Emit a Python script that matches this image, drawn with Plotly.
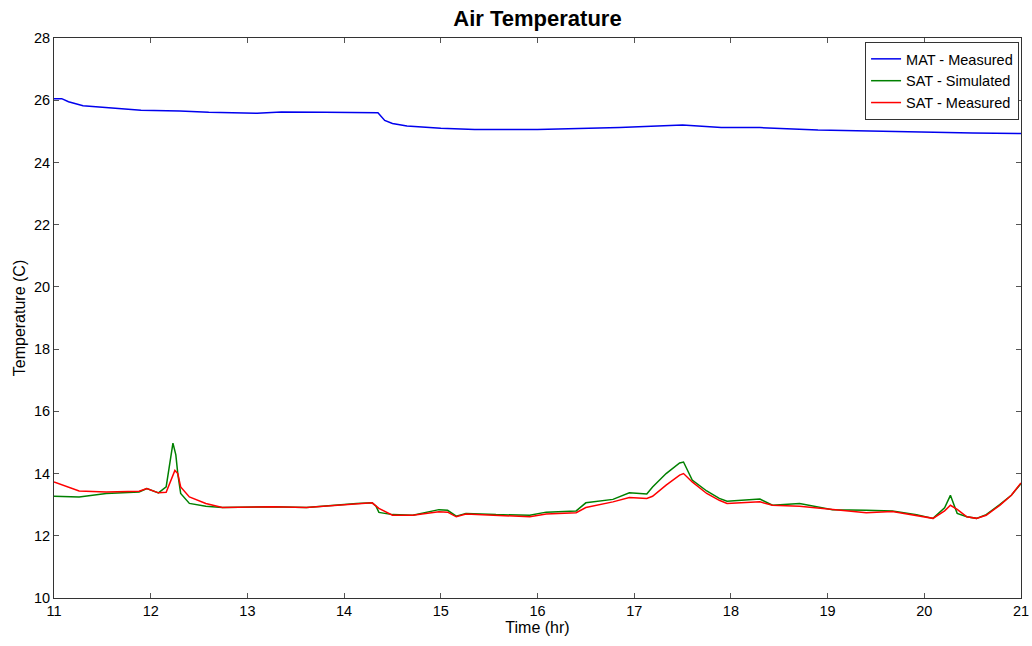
import plotly.graph_objects as go

# MAT - Measured
mat_t = [11.0, 11.08, 11.15, 11.3, 11.6, 11.9, 12.3, 12.6, 13.1, 13.35, 13.8, 14.3, 14.35, 14.42,
         14.5, 14.65, 15.0, 15.35, 16.0, 16.85, 17.5, 17.9, 18.3, 18.9, 19.5, 20.0, 20.5, 21.0]
mat_v = [26.05, 26.05, 25.95, 25.82, 25.75, 25.68, 25.65, 25.61, 25.58, 25.62, 25.61, 25.62, 25.6, 25.35,
         25.25, 25.17, 25.1, 25.06, 25.06, 25.12, 25.2, 25.12, 25.12, 25.04, 25.0, 24.99, 24.95, 24.93]

# SAT - Simulated
sim_t = [11.0, 11.26, 11.54, 11.88, 11.96, 12.08, 12.16, 12.2, 12.23, 12.26, 12.28, 12.31, 12.4, 12.57,
         12.74, 13.26, 13.61, 14.13, 14.29, 14.33, 14.36, 14.5, 14.71, 14.98, 15.07, 15.16, 15.26, 15.57,
         15.92, 16.09, 16.4, 16.5, 16.78, 16.95, 17.13, 17.19, 17.33, 17.47, 17.51, 17.6, 17.75, 17.88,
         17.96, 18.3, 18.43, 18.71, 19.05, 19.4, 19.67, 19.92, 20.09, 20.21, 20.27, 20.34, 20.44, 20.54,
         20.64, 20.78, 20.9, 21.0]
sim_v = [13.27, 13.25, 13.36, 13.41, 13.52, 13.38, 13.57, 14.3, 14.98, 14.6, 14.0, 13.36, 13.04, 12.95,
         12.91, 12.93, 12.91, 13.04, 13.06, 12.95, 12.75, 12.68, 12.66, 12.84, 12.82, 12.63, 12.72, 12.68,
         12.66, 12.76, 12.8, 13.06, 13.17, 13.38, 13.34, 13.57, 14.0, 14.34, 14.37, 13.79, 13.44, 13.2,
         13.11, 13.18, 12.98, 13.04, 12.84, 12.82, 12.8, 12.68, 12.56, 12.9, 13.3, 12.72, 12.61, 12.56,
         12.68, 13.0, 13.3, 13.68]

# SAT - Measured
meas_t = [11.0, 11.26, 11.54, 11.88, 11.96, 12.08, 12.16, 12.25, 12.28, 12.31, 12.4, 12.57, 12.74,
          13.26, 13.61, 14.13, 14.29, 14.36, 14.5, 14.71, 14.98, 15.07, 15.16, 15.26, 15.57, 15.92,
          16.09, 16.4, 16.5, 16.78, 16.95, 17.13, 17.19, 17.33, 17.47, 17.51, 17.6, 17.75, 17.88,
          17.96, 18.3, 18.43, 18.71, 19.05, 19.4, 19.67, 19.92, 20.09, 20.21, 20.27, 20.34, 20.44,
          20.54, 20.64, 20.78, 20.9, 21.0]
meas_v = [13.73, 13.44, 13.41, 13.43, 13.52, 13.38, 13.4, 14.1, 14.0, 13.57, 13.25, 13.04, 12.91,
          12.93, 12.91, 13.04, 13.06, 12.88, 12.66, 12.66, 12.77, 12.76, 12.61, 12.7, 12.66, 12.61,
          12.7, 12.74, 12.91, 13.09, 13.23, 13.2, 13.27, 13.63, 13.95, 14.0, 13.73, 13.36, 13.14,
          13.04, 13.09, 12.98, 12.95, 12.84, 12.74, 12.78, 12.66, 12.56, 12.8, 12.98, 12.85, 12.61,
          12.56, 12.66, 12.98, 13.3, 13.7]

x_ticks = list(range(11, 22))
y_ticks = list(range(10, 29, 2))

FONT = "Liberation Sans, Arial, Helvetica, sans-serif"

fig = go.Figure()
fig.add_trace(go.Scatter(x=mat_t, y=mat_v, mode="lines", name="MAT - Measured",
                         line=dict(color="#0000ee", width=1.5)))
fig.add_trace(go.Scatter(x=sim_t, y=sim_v, mode="lines", name="SAT - Simulated",
                         line=dict(color="#008000", width=1.5)))
fig.add_trace(go.Scatter(x=meas_t, y=meas_v, mode="lines", name="SAT - Measured",
                         line=dict(color="#ff0000", width=1.5)))

fig.update_layout(
    width=1032, height=646,
    paper_bgcolor="white", plot_bgcolor="white",
    margin=dict(l=54, r=11, t=38, b=48, autoexpand=False),
    font=dict(family=FONT, size=14, color="black"),
    title=dict(text="<b>Air Temperature</b>", x=0.5, xref="paper", xanchor="center",
               y=1 - 18 / 646, yref="container", yanchor="middle",
               font=dict(size=22, color="black", family=FONT)),
    showlegend=True,
    legend=dict(x=0.998, y=0.993, xanchor="right", yanchor="top",
                bgcolor="white", bordercolor="#333333", borderwidth=1,
                font=dict(size=14.5, family=FONT), tracegroupgap=0, itemwidth=30),
    xaxis=dict(range=[11, 21], tickvals=x_ticks, ticktext=[str(v) for v in x_ticks],
               showgrid=False, zeroline=False, showline=True, linecolor="#333333", linewidth=1,
               mirror="ticks", ticks="inside", ticklen=5, tickcolor="#555555",
               automargin=False,
               title=dict(text="Time (hr)", standoff=2, font=dict(size=16)),
               tickfont=dict(size=14.5)),
    yaxis=dict(range=[10, 28], tickvals=y_ticks, ticktext=[str(v) for v in y_ticks],
               showgrid=False, zeroline=False, showline=True, linecolor="#333333", linewidth=1,
               mirror="ticks", ticks="inside", ticklen=5, tickcolor="#555555",
               automargin=False,
               title=dict(text="Temperature (C)", standoff=4, font=dict(size=16)),
               tickfont=dict(size=14.5)),
)

fig.write_html("out.html", config={"displayModeBar": False},
               post_script="document.body.style.margin='0';")
